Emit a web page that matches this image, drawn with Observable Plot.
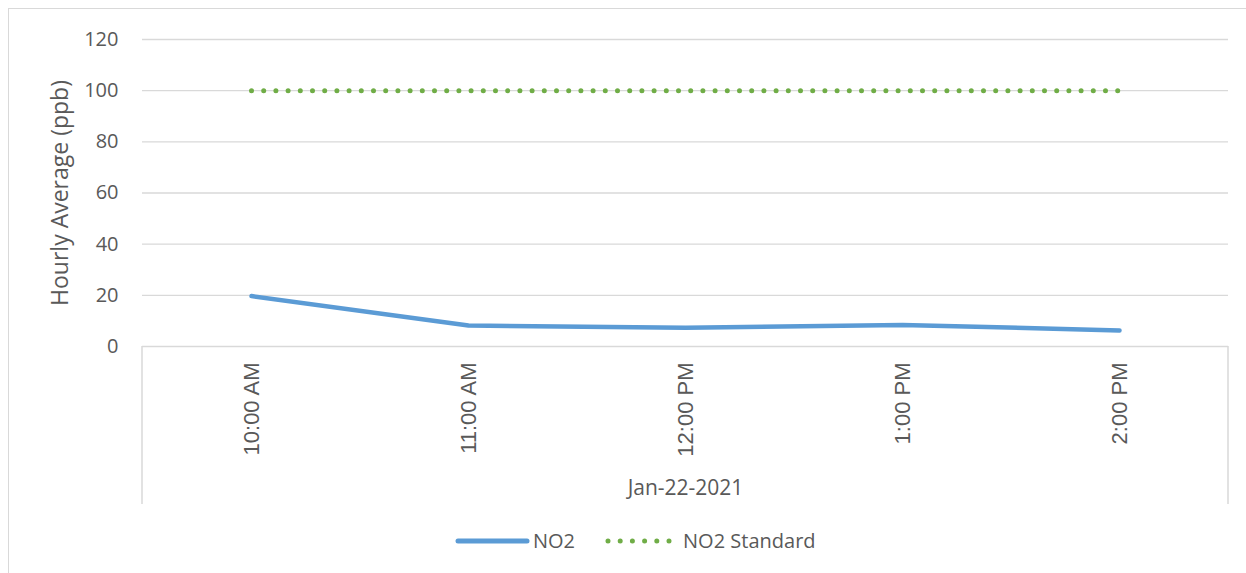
<!DOCTYPE html>
<html><head><meta charset="utf-8">
<script src="https://cdn.jsdelivr.net/npm/d3@7"></script>
<script src="https://cdn.jsdelivr.net/npm/@observablehq/plot@0.6"></script>
<style>
body{margin:0;background:#fff}
#wrap{position:relative;width:1246px;height:573px;overflow:hidden;background:#fff}
#border{position:absolute;left:8px;top:8px;width:1400px;height:800px;border-left:1.5px solid #d9d9d9;border-top:1.5px solid #d9d9d9}
#chart{position:absolute;left:0;top:0}
#chart svg{overflow:visible}
g[aria-label="y-axis tick label"], g[aria-label="y-axis"]{font:20px "Open Sans";color:#595959}
g[aria-label="x-axis tick label"], g[aria-label="x-axis"]{font:22px "Liberation Sans";color:#595959}
#legend{position:absolute;left:455px;top:527px;display:flex;align-items:center;font:20px "Open Sans";color:#595959;white-space:nowrap}
#legend svg{display:block}
</style></head>
<body>
<div id="wrap"><div id="border"></div><div id="chart"></div>
<div id="legend"></div></div>
<script>
const times = ["10:00 AM","11:00 AM","12:00 PM","1:00 PM","2:00 PM"];
const no2 = [19.7, 8.2, 7.3, 8.4, 6.3];
const no2Standard = [100, 100, 100, 100, 100];
const yTicks = [0, 20, 40, 60, 80, 100, 120];
const groupLabel = "Jan-22-2021";
const yTitle = "Hourly Average (ppb)";
const seriesNames = ["NO2", "NO2 Standard"];
const colors = {NO2: "#5B9BD5", "NO2 Standard": "#70AD47"};

const rows = times.map((t, i) => ({time: t, no2: no2[i], std: no2Standard[i]}));

function dividers(index, scales, values, dim) {
  const g = d3.create("svg:g").attr("aria-label", "category dividers");
  const y0 = dim.height - dim.marginBottom;
  for (const x of [dim.marginLeft, dim.width - dim.marginRight]) {
    g.append("line").attr("x1", x).attr("x2", x).attr("y1", y0).attr("y2", y0 + 158)
      .attr("stroke", "#d9d9d9").attr("stroke-width", 1.5);
  }
  return g.node();
}

const chart = Plot.plot({
  width: 1246,
  height: 515,
  marginLeft: 142,
  marginRight: 18,
  marginTop: 39,
  marginBottom: 169,
  style: {fontFamily: "Open Sans", background: "transparent"},
  x: {type: "point", domain: times, padding: 0.5, label: null},
  y: {domain: [0, 120], label: null},
  marks: [
    Plot.ruleY(yTicks, {stroke: "#d9d9d9", strokeWidth: 1.4}),
    Plot.axisY({ticks: yTicks, tickSize: 0, tickPadding: 24, label: null}),
    Plot.axisX({tickSize: 0, tickPadding: 16, tickRotate: -90, label: null}),
    dividers,
    Plot.text([yTitle], {frameAnchor: "left", textAnchor: "middle", rotate: -90, dx: -82, fontSize: 23, fill: "#595959", fontFamily: "Open Sans"}),
    Plot.text([groupLabel], {frameAnchor: "bottom", dy: 148, fontSize: 21, fill: "#595959", fontFamily: "Open Sans"}),
    Plot.line(rows, {x: "time", y: "std", stroke: colors["NO2 Standard"], strokeWidth: 5, strokeLinecap: "round", strokeDasharray: "0 12.2"}),
    Plot.line(rows, {x: "time", y: "no2", stroke: colors.NO2, strokeWidth: 4.5, strokeLinecap: "round", strokeLinejoin: "round"})
  ]
});
document.getElementById("chart").appendChild(chart);

const legend = document.getElementById("legend");
legend.innerHTML = `
<svg width="78" height="10"><line x1="3" x2="72" y1="5" y2="5" stroke="${colors.NO2}" stroke-width="5" stroke-linecap="round"/></svg>
<span style="margin-left:0px">${seriesNames[0]}</span>
<svg width="72" height="10" style="margin-left:30px"><line x1="3" x2="66" y1="5" y2="5" stroke="${colors["NO2 Standard"]}" stroke-width="5" stroke-linecap="round" stroke-dasharray="0 12.2"/></svg>
<span style="margin-left:6px">${seriesNames[1]}</span>`;
</script>
</body></html>
